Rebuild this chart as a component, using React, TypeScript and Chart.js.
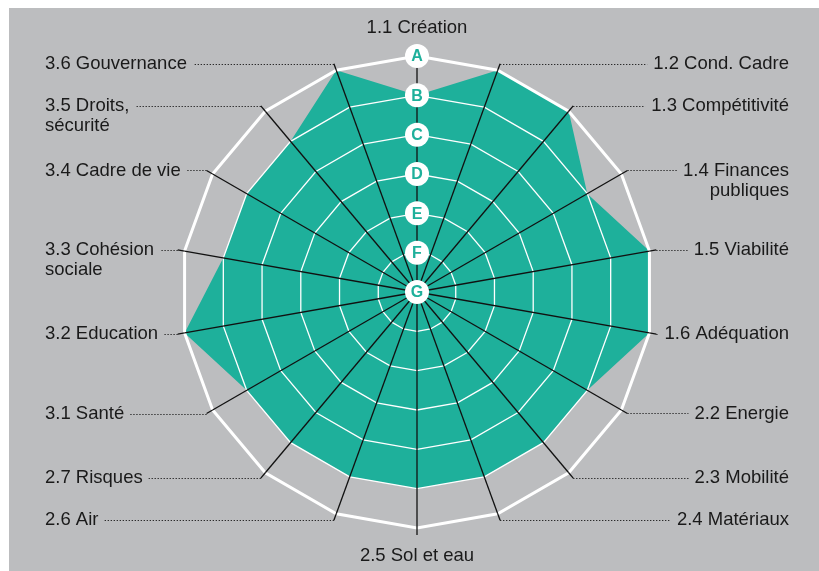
import React, { useEffect, useRef } from 'react';
import { Chart, registerables } from 'chart.js';

Chart.register(...registerables);

// ---- data ----
const categories: (string | string[])[] = [
  '1.1 Création',
  '1.2 Cond. Cadre',
  '1.3 Compétitivité',
  ['1.4 Finances', 'publiques'],
  '1.5 Viabilité',
  '1.6 Adéquation',
  '2.2 Energie',
  '2.3 Mobilité',
  '2.4 Matériaux',
  '2.5 Sol et eau',
  '2.6 Air',
  '2.7 Risques',
  '3.1 Santé',
  '3.2 Education',
  ['3.3 Cohésion', 'sociale'],
  '3.4 Cadre de vie',
  ['3.5 Droits,', 'sécurité'],
  '3.6 Gouvernance',
];

const scores: number[] = [5, 6, 6, 5, 6, 6, 5, 5, 5, 5, 5, 5, 5, 6, 5, 5, 5, 6];

// grade letters for scale values 0..6
const gradeLabels: string[] = ['G', 'F', 'E', 'D', 'C', 'B', 'A'];

const GRAY = '#bcbdbf';
const TEAL = '#1eb09b';
const TEXT = '#1a1a1a';
const FONT = '"Liberation Sans", Arial, Helvetica, sans-serif';

export default function App() {
  const ref = useRef<HTMLCanvasElement>(null);

  useEffect(() => {
    const canvas = ref.current;
    if (!canvas) return;

    const labelPlugin = {
      id: 'sideLabels',
      afterDraw(chart: any) {
        const ctx: CanvasRenderingContext2D = chart.ctx;
        const scale = chart.scales.r;
        const outer = scale.getDistanceFromCenterForValue(scale.max);
        const ext = outer + 7;
        const n = categories.length;
        const half = n / 2;
        const rightX = 780;
        const leftX = 36;
        const lineH = 20;

        ctx.save();
        ctx.font = `18.5px ${FONT}`;
        ctx.fillStyle = TEXT;
        ctx.textBaseline = 'middle';

        for (let i = 0; i < n; i++) {
          const c = categories[i];
          const lines = Array.isArray(c) ? c : [c];
          const a = scale.getPointPosition(i, outer);
          const b = scale.getPointPosition(i, ext);

          if (i !== 0) {
            ctx.setLineDash([]);
            ctx.strokeStyle = '#111';
            ctx.lineWidth = 1.3;
            ctx.beginPath();
            ctx.moveTo(a.x, a.y);
            ctx.lineTo(b.x, b.y);
            ctx.stroke();
          }

          if (i === 0 || i === half) {
            const p = scale.getPointPosition(i, outer + 28);
            ctx.textAlign = 'center';
            ctx.fillStyle = TEXT;
            ctx.fillText(lines[0], p.x, p.y);
            continue;
          }

          const right = i < half;
          const tx = right ? rightX : leftX;
          ctx.textAlign = right ? 'right' : 'left';
          ctx.fillStyle = TEXT;
          lines.forEach((t, k) => ctx.fillText(t, tx, b.y + k * lineH));
          const w = ctx.measureText(lines[0]).width;
          const endX = right ? tx - w - 6 : tx + w + 6;

          ctx.setLineDash([1.2, 1.8]);
          ctx.strokeStyle = '#1a1a1a';
          ctx.lineWidth = 1.2;
          ctx.beginPath();
          ctx.moveTo(b.x, Math.round(b.y) + 0.5);
          ctx.lineTo(endX, Math.round(b.y) + 0.5);
          ctx.stroke();
        }

        // grade bubbles along the first spoke
        ctx.setLineDash([]);
        for (let v = scale.min; v <= scale.max; v++) {
          const d = scale.getDistanceFromCenterForValue(v);
          const p = scale.getPointPosition(0, d);
          ctx.beginPath();
          ctx.fillStyle = '#ffffff';
          ctx.arc(p.x, p.y, 12, 0, Math.PI * 2);
          ctx.fill();
          ctx.fillStyle = TEAL;
          ctx.font = `bold 16px ${FONT}`;
          ctx.textAlign = 'center';
          ctx.textBaseline = 'middle';
          ctx.fillText(gradeLabels[v], p.x, p.y + 1);
        }
        ctx.restore();
      },
    };

    const chart = new Chart(canvas, {
      type: 'radar',
      data: {
        labels: categories.map((c) => (Array.isArray(c) ? c.join(' ') : c)),
        datasets: [
          {
            data: scores,
            backgroundColor: TEAL,
            borderColor: 'rgba(0,0,0,0)',
            borderWidth: 0,
            pointRadius: 0,
            fill: true,
          },
        ],
      },
      options: {
        animation: false,
        responsive: false,
        layout: { padding: { left: 172, right: 166, top: 48, bottom: 43 } },
        plugins: {
          legend: { display: false },
          tooltip: { enabled: false },
        },
        scales: {
          r: {
            min: 0,
            max: 6,
            ticks: { display: false, stepSize: 1 },
            pointLabels: { display: false },
            grid: {
              z: 1,
              color: '#ffffff',
              lineWidth: (ctx: any) => (ctx.tick && ctx.tick.value === 6 ? 3 : 1.3),
            } as any,
            angleLines: { color: '#111', lineWidth: 1.3 },
          },
        },
      } as any,
      plugins: [labelPlugin],
    });

    return () => chart.destroy();
  }, []);

  return (
    <div
      style={{
        position: 'fixed',
        left: 9,
        top: 8,
        width: 810,
        height: 563,
        background: GRAY,
        overflow: 'hidden',
      }}
    >
      <canvas ref={ref} width={810} height={563} style={{ display: 'block' }} />
    </div>
  );
}
